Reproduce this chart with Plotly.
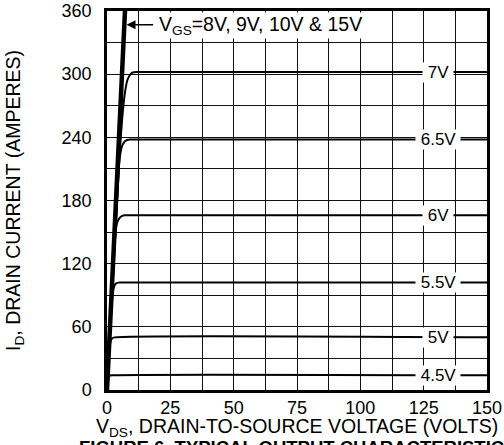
import plotly.graph_objects as go

# ---- data ----
curve_labels = ["4.5V", "5V", "5.5V", "6V", "6.5V", "7V"]

vds_45 = [0, 0.4, 1.0, 2.0, 150]
id_45 = [0, 10, 13.5, 14, 14]

vds_5 = [0, 0.8, 1.5, 2.0, 3.0, 150]
id_5 = [0, 35, 47, 49, 50, 50]

vds_55 = [0, 1.5, 2.5, 3.0, 3.5, 4.5, 6.0, 150]
id_55 = [0, 70, 95, 99.5, 101, 102, 102, 102]

vds_6 = [0, 2.0, 3.0, 3.5, 4.0, 5.0, 6.0, 7.0, 8.0, 150]
id_6 = [0, 95, 138, 152, 159, 163.5, 165.3, 166, 166, 166]

vds_65 = [0, 3.0, 4.0, 5.0, 6.0, 7.0, 8.0, 9.0, 10.0, 150]
id_65 = [0, 135, 180, 220, 232, 236, 237.5, 238, 238, 238]

vds_7 = [0, 3.0, 5.0, 6.0, 7.0, 8.0, 9.0, 10.0, 12.0, 150]
id_7 = [0, 140, 225, 258, 281, 294, 299, 301.5, 302, 302]

vds_8 = [0, 7.1]
id_8 = [0, 360]

x_ticks = [0, 25, 50, 75, 100, 125, 150]
y_ticks = [0, 60, 120, 180, 240, 300, 360]

series = [
    (vds_45, id_45), (vds_5, id_5), (vds_55, id_55),
    (vds_6, id_6), (vds_65, id_65), (vds_7, id_7),
]

fig = go.Figure()
for (xs, ys) in series:
    fig.add_trace(go.Scatter(x=xs, y=ys, mode="lines",
                             line=dict(color="black", width=2, shape="spline", smoothing=0.6),
                             showlegend=False, hoverinfo="skip"))
fig.add_trace(go.Scatter(x=vds_8, y=id_8, mode="lines",
                         line=dict(color="black", width=4.5),
                         showlegend=False, hoverinfo="skip"))

FONT = "Liberation Sans, Arial, Helvetica, sans-serif"
NB = "\u00a0"

# curve labels with white background
for lab, (xs, ys) in zip(curve_labels, series):
    fig.add_annotation(x=130.5, y=ys[-1], text=NB + lab + NB, showarrow=False,
                       font=dict(family=FONT, size=17, color="black"),
                       bgcolor="white", borderpad=0, xanchor="center", yanchor="middle")

# arrow and VGS note
fig.add_annotation(x=7.7, y=347, ax=18.8, ay=347, axref="x", ayref="y",
                   xref="x", yref="y", text="", showarrow=True,
                   arrowhead=2, arrowsize=1.2, arrowwidth=1.5, arrowcolor="black")
fig.add_annotation(x=20.3, y=346, xref="x", yref="y",
                   text="V<sub>GS</sub>=8V, 9V, 10V & 15V", showarrow=False,
                   font=dict(family=FONT, size=19.5, color="black"),
                   bgcolor="white", borderpad=0, xanchor="left", yanchor="middle")

# x axis title as annotation (placed tight under the tick labels)
fig.add_annotation(x=0.5, y=-0.061, xref="paper", yref="paper",
                   text="V<sub>DS</sub>, DRAIN-TO-SOURCE VOLTAGE (VOLTS)",
                   showarrow=False, xanchor="center", yanchor="top",
                   font=dict(family=FONT, size=19.5, color="black"))

# figure caption (cut off at the bottom like the reference)
fig.add_annotation(x=-0.079, y=-0.118, xref="paper", yref="paper",
                   text="<b>FIGURE 6. TYPICAL OUTPUT CHARACTERISTICS</b>",
                   showarrow=False, xanchor="left", yanchor="top",
                   font=dict(family=FONT, size=18.5, color="black"))

GRID = "#111"
axis_common = dict(showline=True, linecolor="black", linewidth=2.5, mirror=True,
                   showgrid=True, gridcolor=GRID, gridwidth=1.2, zeroline=False,
                   automargin=False, ticklabeloverflow="allow",
                   ticks="", tickfont=dict(family=FONT, size=18, color="black"))

fig.update_xaxes(range=[0, 150], tickvals=x_ticks, ticktext=[str(v) for v in x_ticks],
                 minor=dict(dtick=12.5, tick0=0, showgrid=True, gridcolor=GRID, gridwidth=1.2),
                 ticklabelstandoff=0, **axis_common)
fig.update_yaxes(range=[0, 360], tickvals=y_ticks, ticktext=[str(v) for v in y_ticks],
                 minor=dict(dtick=30, tick0=0, showgrid=True, gridcolor=GRID, gridwidth=1.2),
                 title=dict(text="I<sub>D</sub>, DRAIN CURRENT (AMPERES)",
                            font=dict(family=FONT, size=19.5, color="black"), standoff=36),
                 ticklabelstandoff=9, **axis_common)

fig.update_layout(width=504, height=445, margin=dict(l=107, r=17, t=11, b=55),
                  plot_bgcolor="white", paper_bgcolor="white",
                  font=dict(family=FONT, color="black"))

fig.write_html("out.html", config={"displayModeBar": False},
               post_script="document.body.style.margin='0';document.body.style.overflow='hidden';")
